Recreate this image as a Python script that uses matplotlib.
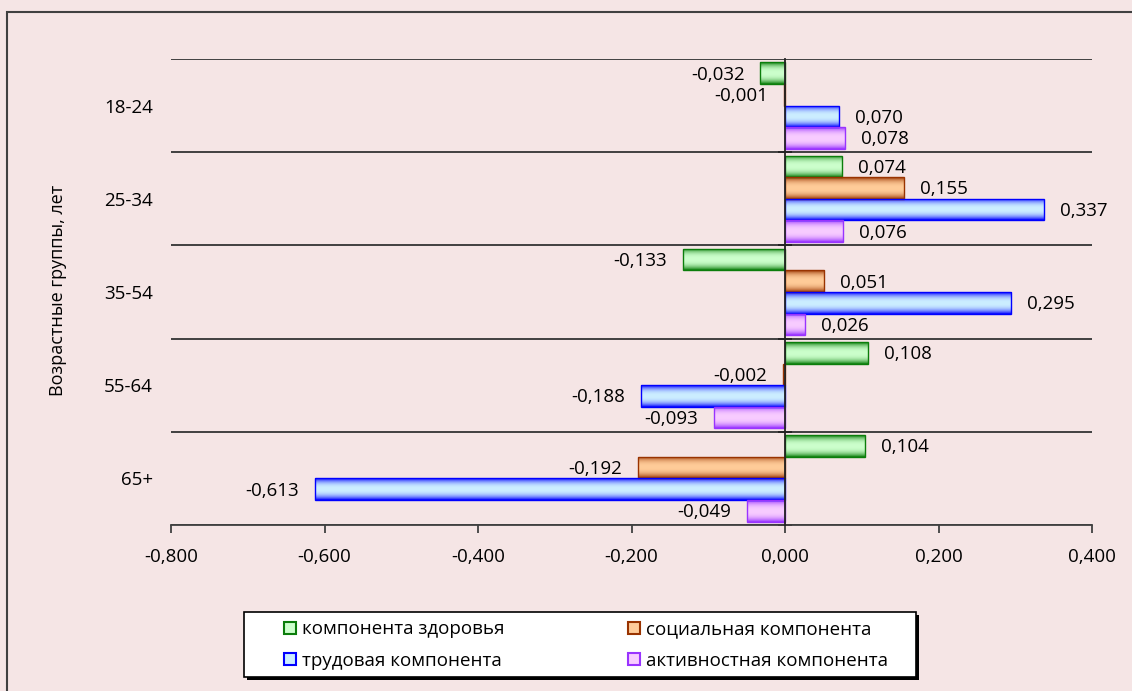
import numpy as np
import matplotlib
matplotlib.use("Agg")
import matplotlib.pyplot as plt
from matplotlib.colors import to_rgb
from matplotlib.patches import Rectangle

plt.rcParams['font.family'] = ['Open Sans', 'DejaVu Sans']

# ---- data ----
groups = ['18-24', '25-34', '35-54', '55-64', '65+']
health = [-0.032, 0.074, -0.133, 0.108, 0.104]
social = [-0.001, 0.155, 0.051, -0.002, -0.192]
labour = [0.070, 0.337, 0.295, -0.188, -0.613]
activity = [0.078, 0.076, 0.026, -0.093, -0.049]
series_names = ['компонента здоровья', 'социальная компонента',
                'трудовая компонента', 'активностная компонента']
xticks = [-0.8, -0.6, -0.4, -0.2, 0.0, 0.2, 0.4]

# (light centre, dark edge) for the gradient fill
palette = [('#CCFFCC', '#0B7D0B'),
           ('#FFCC99', '#993300'),
           ('#CCEEFF', '#0000FF'),
           ('#F8CCFF', '#9933FF')]
bg = '#F5E5E5'

fig = plt.figure(figsize=(11.32, 6.91), dpi=100, facecolor=bg)
ax = fig.add_axes([171/1132, 1-525/691, (1092-171)/1132, (525-59)/691])
ax.set_facecolor(bg)


def gradient(light, dark, n=64):
    t = np.linspace(0, 1, n)
    w = np.abs(2*t - 1) ** 2.5
    lo = np.array(to_rgb(light))
    hi = np.array(to_rgb(dark))
    col = lo[None, :]*(1-w[:, None]) + hi[None, :]*w[:, None]
    return col[:, None, :]


y = np.arange(len(groups))
h = 0.232
all_series = [health, social, labour, activity]
for i, vals in enumerate(all_series):
    light, dark = palette[i]
    pos = y + (i - 1.5)*h
    bars = ax.barh(pos, vals, height=h, facecolor='none', edgecolor=dark,
                   linewidth=1.0, zorder=4)
    img = gradient(light, dark)
    for p in bars.patches:
        x0, y0, x1, y1 = p.get_bbox().extents
        im = ax.imshow(img, extent=[min(x0, x1), max(x0, x1), max(y0, y1), min(y0, y1)],
                       aspect='auto', interpolation='bilinear', zorder=3)
        im.set_clip_path(p)
    for v, yy in zip(vals, pos):
        txt = f"{v:.3f}".replace('.', ',')
        if v >= 0:
            ax.annotate(txt, (v, yy), xytext=(11.5, -1), textcoords='offset points',
                        ha='left', va='center', fontsize=13.5, color='black')
        else:
            ax.annotate(txt, (v, yy), xytext=(-11.5, -1), textcoords='offset points',
                        ha='right', va='center', fontsize=13.5, color='black')

ax.set_xlim(-0.8, 0.4)
ax.set_ylim(4.5, -0.5)

# gridlines between groups
for b in np.arange(-0.5, 5.0, 1.0):
    ax.axhline(b, color='#333333', linewidth=1.3, zorder=1)

for s in ['top', 'right']:
    ax.spines[s].set_visible(False)
ax.spines['bottom'].set_color('#404040')
ax.spines['bottom'].set_linewidth(1.3)
ax.spines['left'].set_position(('data', 0))
ax.spines['left'].set_color('#222222')
ax.spines['left'].set_linewidth(1.3)
ax.spines['left'].set_zorder(6)

ax.set_yticks(np.arange(0.5, 5.0, 1.0))
ax.set_yticklabels([])
ax.tick_params(axis='y', direction='inout', length=10, width=1.3, color='#222222')

ax.set_xticks(xticks)
ax.set_xticklabels([f"{t:.3f}".replace('.', ',') for t in xticks], fontsize=13.5)
ax.tick_params(axis='x', direction='out', length=6, width=1.3, color='#404040', pad=10.5)

sec = ax.secondary_yaxis('left')
sec.set_yticks(y)
sec.set_yticklabels(groups, fontsize=13.5)
sec.tick_params(length=0, pad=13)
sec.spines['left'].set_visible(False)

fig.text(58/1132, 1-290/691, 'Возрастные группы, лет', rotation=90,
         ha='center', va='center', fontsize=13)

# outer border of chart area
fig.patches.append(Rectangle((7/1132, -0.1), 1.2, 1 - 12/691 + 0.1, transform=fig.transFigure,
                             fill=False, edgecolor='#404040', linewidth=1.5))

# legend box with shadow
lx0, lx1, ly0, ly1 = 244, 916, 612, 677
fig.patches.append(Rectangle(((lx0+3)/1132, 1-(ly1+3)/691), (lx1-lx0)/1132, (ly1-ly0)/691,
                             transform=fig.transFigure, facecolor='black', edgecolor='none'))
fig.patches.append(Rectangle((lx0/1132, 1-ly1/691), (lx1-lx0)/1132, (ly1-ly0)/691,
                             transform=fig.transFigure, facecolor='white',
                             edgecolor='black', linewidth=1.2))

handles = [Rectangle((0, 0), 1, 1, facecolor=l, edgecolor=d, linewidth=1.5) for l, d in palette]
# row-wise order: health, social / labour, activity
order = [0, 2, 1, 3]
fig.legend([handles[k] for k in order], [series_names[k] for k in order],
           loc='center', bbox_to_anchor=(586/1132, 1-645/691),
           ncol=2, frameon=False, fontsize=13.5, handlelength=0.65, handleheight=0.65,
           handletextpad=0.3, columnspacing=6.6, labelspacing=0.7)

fig.savefig('out.png', dpi=100, facecolor=bg)
